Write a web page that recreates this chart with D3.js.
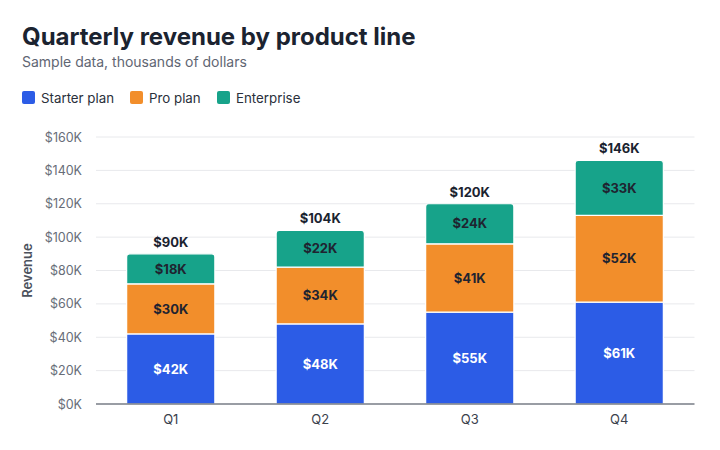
<!DOCTYPE html>
<html>
<head>
<meta charset="utf-8">
<script src="https://cdn.jsdelivr.net/npm/d3@7"></script>
<style>
  body { margin: 0; background: #fff; }
  svg { font-family: Inter, "Noto Sans", sans-serif; }
</style>
</head>
<body>
<div id="chart"></div>
<script>
const WIDTH = 720;
const HEIGHT = 450;
const MARGINS = {left: 96, right: 26, top: 137, bottom: 46};

const quarters = ["Q1", "Q2", "Q3", "Q4"];
const seriesNames = ["Starter plan", "Pro plan", "Enterprise"];
const starter = [42, 48, 55, 61];
const pro = [30, 34, 41, 52];
const enterprise = [18, 22, 24, 33];
const yTicks = [0, 20, 40, 60, 80, 100, 120, 140, 160];
const colors = ["#2c5ce6", "#f28e2b", "#17a38a"];
const labelColors = ["#ffffff", "#1f2430", "#1f2430"];

// build rows for d3.stack
const rows = quarters.map((q, i) => ({
  quarter: q,
  "Starter plan": starter[i],
  "Pro plan": pro[i],
  "Enterprise": enterprise[i]
}));

const svg = d3.select("#chart")
  .append("svg")
  .attr("width", WIDTH)
  .attr("height", HEIGHT);

const X = d3.scaleBand()
  .domain(quarters)
  .range([MARGINS.left, WIDTH - MARGINS.right])
  .paddingInner(0.41)
  .paddingOuter(0.205);

const Y = d3.scaleLinear()
  .domain([0, 160])
  .range([HEIGHT - MARGINS.bottom, MARGINS.top]);

// title + subtitle
svg.append("text")
  .attr("x", 22).attr("y", 45)
  .attr("font-size", 24).attr("font-weight", 700)
  .attr("fill", "#1b2330")
  .text("Quarterly revenue by product line");

svg.append("text")
  .attr("x", 22).attr("y", 67)
  .attr("font-size", 14)
  .attr("fill", "#5f6673")
  .text("Sample data, thousands of dollars");

// legend
const legendX = [22, 130, 217];
const legend = svg.append("g").selectAll("g")
  .data(seriesNames)
  .enter().append("g")
  .attr("transform", (d, i) => "translate(" + legendX[i] + ",91)");
legend.append("rect")
  .attr("width", 13).attr("height", 13).attr("rx", 2)
  .attr("fill", (d, i) => colors[i]);
legend.append("text")
  .attr("x", 19).attr("y", 11.5)
  .attr("font-size", 13.3)
  .attr("fill", "#2a303b")
  .text(d => d);

// grid
svg.append("g").selectAll("line")
  .data(yTicks.slice(1))
  .enter().append("line")
  .attr("x1", MARGINS.left).attr("x2", WIDTH - MARGINS.right + 0.5)
  .attr("y1", d => Y(d)).attr("y2", d => Y(d))
  .attr("stroke", "#e8e9ec").attr("stroke-width", 1);

// y axis labels
svg.append("g")
  .attr("transform", "translate(" + (MARGINS.left - 11) + ",0)")
  .call(d3.axisLeft(Y).tickValues(yTicks).tickSize(0).tickFormat(d => "$" + d + "K"))
  .call(g => g.select(".domain").remove())
  .call(g => g.selectAll("text")
    .attr("font-family", "Inter, sans-serif")
    .attr("font-size", 12.5)
    .attr("fill", "#676d78"));

svg.append("text")
  .attr("transform", "translate(32," + Y(80) + ") rotate(-90)")
  .attr("text-anchor", "middle")
  .attr("font-size", 13).attr("font-weight", 600)
  .attr("fill", "#4b515c")
  .text("Revenue");

// stacked bars
const stacked = d3.stack().keys(seriesNames)(rows);
const radius = 3;

function barPath(d, top) {
  const x0 = X(d.data.quarter), w = X.bandwidth();
  const y0 = Y(d[0]), y1 = Y(d[1]);
  if (!top) return "M" + x0 + "," + y0 + "V" + y1 + "H" + (x0 + w) + "V" + y0 + "Z";
  return "M" + x0 + "," + y0 +
    "V" + (y1 + radius) +
    "Q" + x0 + "," + y1 + " " + (x0 + radius) + "," + y1 +
    "H" + (x0 + w - radius) +
    "Q" + (x0 + w) + "," + y1 + " " + (x0 + w) + "," + (y1 + radius) +
    "V" + y0 + "Z";
}

const layers = svg.append("g").selectAll("g")
  .data(stacked)
  .enter().append("g")
  .attr("fill", (d, i) => colors[i]);

layers.selectAll("path")
  .data((d, i) => d.map(v => Object.assign(v, {layer: i})))
  .enter().append("path")
  .attr("d", d => barPath(d, d.layer === seriesNames.length - 1))
  .attr("stroke", "#ffffff")
  .attr("stroke-width", 1.2);

// segment labels
layers.selectAll("text")
  .data(d => d)
  .enter().append("text")
  .attr("x", d => X(d.data.quarter) + X.bandwidth() / 2)
  .attr("y", d => (Y(d[0]) + Y(d[1])) / 2)
  .attr("dy", "0.36em")
  .attr("text-anchor", "middle")
  .attr("font-size", 13).attr("font-weight", 700)
  .attr("fill", d => labelColors[d.layer])
  .text(d => "$" + (d[1] - d[0]) + "K");

// x axis
svg.append("g")
  .attr("transform", "translate(0," + Y(0) + ")")
  .call(d3.axisBottom(X).tickSize(0).tickPadding(11))
  .call(g => g.select(".domain").attr("stroke", "#777c86").attr("stroke-width", 1.5)
    .attr("d", "M" + MARGINS.left + ",0H" + (WIDTH - MARGINS.right + 0.5)))
  .call(g => g.selectAll("text")
    .attr("font-family", "Inter, sans-serif")
    .attr("font-size", 13)
    .attr("fill", "#3b414c"));

// totals
svg.append("g").selectAll("text")
  .data(rows)
  .enter().append("text")
  .attr("x", d => X(d.quarter) + X.bandwidth() / 2)
  .attr("y", d => Y(d["Starter plan"] + d["Pro plan"] + d["Enterprise"]) - 7)
  .attr("text-anchor", "middle")
  .attr("font-size", 13).attr("font-weight", 700)
  .attr("fill", "#1b2330")
  .text(d => "$" + (d["Starter plan"] + d["Pro plan"] + d["Enterprise"]) + "K");
</script>
</body>
</html>
